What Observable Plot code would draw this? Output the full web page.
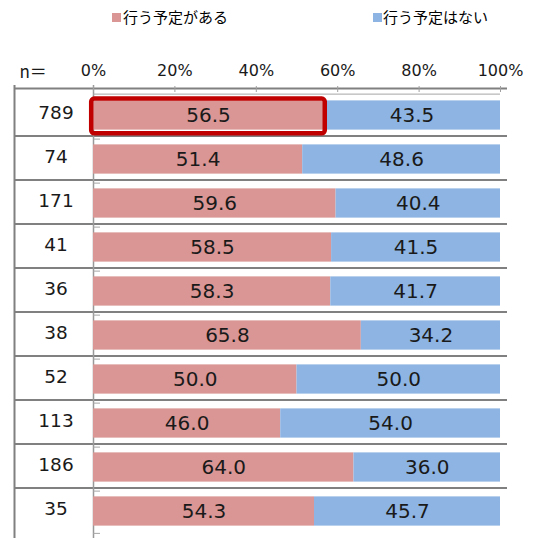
<!DOCTYPE html>
<html><head><meta charset="utf-8">
<script src="https://cdn.jsdelivr.net/npm/d3@7"></script>
<script src="https://cdn.jsdelivr.net/npm/@observablehq/plot@0.6"></script>
<style>
body{margin:0;background:#fff;}
#wrap{position:relative;width:536px;}
#legend{position:relative;width:536px;height:40px;font-family:"Noto Sans CJK JP",sans-serif;font-size:15px;color:#000;}
.sw{position:absolute;width:9px;height:9px;}
.lt{position:absolute;top:9px;line-height:15px;white-space:nowrap;}
</style></head><body>
<div id="wrap"><div id="legend"></div><div id="chart"></div></div>
<script>
const nLabels = ["789","74","171","41","36","38","52","113","186","35"];
const seriesNames = ["行う予定がある","行う予定はない"];
const planYes = [56.5,51.4,59.6,58.5,58.3,65.8,50.0,46.0,64.0,54.3];
const planNo  = [43.5,48.6,40.4,41.5,41.7,34.2,50.0,54.0,36.0,45.7];
const xTicks = [0,20,40,60,80,100];
const highlighted = ["789"];
const colors = ["#D99694","#8DB4E2"];

// legend
const legend = document.getElementById("legend");
const legendPos = [{sw:112, tx:123, top:13}, {sw:373, tx:383, top:12.5}];
seriesNames.forEach((name, i) => {
  const s = document.createElement("div");
  s.className = "sw"; s.style.left = legendPos[i].sw + "px"; s.style.top = legendPos[i].top + "px";
  s.style.background = colors[i];
  const t = document.createElement("div");
  t.className = "lt"; t.style.left = legendPos[i].tx + "px"; t.textContent = name;
  legend.appendChild(s); legend.appendChild(t);
});

const rows = nLabels.flatMap((n, i) => [
  {n, key: seriesNames[0], value: planYes[i]},
  {n, key: seriesNames[1], value: planNo[i]}
]);
const hl = rows.filter(d => d.key === seriesNames[0] && highlighted.includes(d.n));

const yRange = [49.6, 497.4];
const bw = (yRange[1] - yRange[0]) / nLabels.length;
const barH = 30;
const inset = (bw - barH) / 2;
const tableStroke = "#808080";

const chart = Plot.plot({
  width: 536, height: 498,
  marginLeft: 93, marginRight: 36, marginTop: 51, marginBottom: 0,
  style: {fontFamily: "'DejaVu Sans','Noto Sans CJK JP',sans-serif", background: "#fff", overflow: "visible", color: "#000"},
  x: {domain: [0, 100], label: null},
  y: {type: "band", domain: nLabels, range: yRange, padding: 0, axis: null, label: null},
  color: {domain: seriesNames, range: colors},
  marks: [
    // table lines
    Plot.ruleY([nLabels[0]], {dy: -bw/2 - 4.6, insetLeft: -79, insetRight: -7, stroke: tableStroke, strokeWidth: 2}),
    Plot.ruleY(nLabels.slice(1), {dy: -bw/2 - 1, insetLeft: -79, insetRight: -7, stroke: tableStroke, strokeWidth: 2}),
    Plot.ruleX([0], {dx: -79, insetTop: -6, stroke: tableStroke, strokeWidth: 2}),
    Plot.ruleX([0], {insetTop: -6, stroke: "#999", strokeWidth: 1.5}),
    // axis line
    Plot.ruleY([nLabels[0]], {dy: -bw/2 + 1, stroke: "#a6a6a6", strokeWidth: 1}),
    // category ticks
    Plot.ruleY(nLabels.slice(1), {dy: -bw/2 + 2, insetRight: 400, stroke: "#a6a6a6", strokeWidth: 1}),
    Plot.ruleY([nLabels[nLabels.length - 1]], {dy: bw/2 - 0.5, insetRight: 400, stroke: "#a6a6a6", strokeWidth: 1}),
    // bars
    Plot.barX(rows, {x: "value", y: "n", fill: "key", insetTop: inset, insetBottom: inset}),
    // highlight box
    Plot.barX(hl, {x: "value", y: "n", fill: "none", stroke: "#C00000", strokeWidth: 4.5, rx: 3,
      insetTop: 5.6, insetBottom: 3.7, insetLeft: -1.8, insetRight: -1.8}),
    // value labels
    Plot.text(rows, Plot.stackX({x: "value", y: "n", z: "key", text: d => d.value.toFixed(1), fontSize: 20, fill: "#1a1a1a"})),
    // n labels
    Plot.text(nLabels, {y: d => d, text: d => d, frameAnchor: "left", dx: -37.5, dy: -2.5, fontSize: 18.5, textAnchor: "middle", fill: "#1a1a1a"}),
    Plot.text(["n＝"], {frameAnchor: "top-left", dx: -74, dy: -14, lineAnchor: "bottom", textAnchor: "start", fontSize: 17, fontFamily: "'Noto Sans CJK JP',sans-serif", fill: "#1a1a1a"}),
    // top axis
    Plot.axisX(xTicks, {anchor: "top", label: null, tickFormat: d => d + "%", tickSize: 6, tickPadding: 10, fontSize: 16, stroke: "#a0a0a0", fill: "#1a1a1a"})
  ]
});
document.getElementById("chart").appendChild(chart);
</script>
</body></html>
